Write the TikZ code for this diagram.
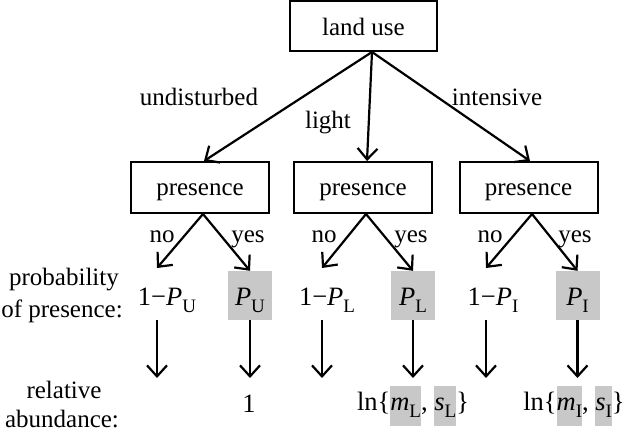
\documentclass[tikz,border=0pt]{standalone}
\usepackage{fontspec}
\setmainfont{Liberation Serif}
\usetikzlibrary{arrows.meta}
\definecolor{shade}{RGB}{200,200,200}
\newcommand{\sbs}[1]{\raisebox{-7pt}{\fontsize{19}{19}\selectfont #1}}
\newcommand{\gbx}[1]{{\setlength{\fboxsep}{0pt}\colorbox{shade}{\rule[-16pt]{0pt}{40pt}#1}}}
\newcommand{\mfont}{\fontsize{26.5}{30}\selectfont}
\begin{document}
\begin{tikzpicture}[x=1pt,y=-1pt,
  every node/.style={font=\fontsize{25}{30}\selectfont},
  box/.style={draw, line width=2pt, minimum width=138pt, minimum height=51pt, inner sep=0pt, text height=15pt, text depth=0pt},
  lbl/.style={anchor=base, inner sep=0pt},
  mlbl/.style={anchor=base, inner sep=0pt, font=\mfont},
  gbox/.style={fill=shade, minimum width=44pt, minimum height=49pt, inner sep=0pt, text height=19pt, text depth=0pt, font=\mfont},
  arr/.style={line width=2.2pt, -{Straight Barb[length=11pt,width=20pt,line width=2.2pt]}}]
\useasboundingbox (0,0) rectangle (628,434);

% top box
\node[box, minimum width=147pt, minimum height=50pt, text height=18pt] (lu) at (363.5,26) {land use};
\coordinate (t0) at ([xshift=8.5pt]lu.south);

% presence boxes
\node[box] (p1) at (200,187.5) {presence};
\node[box] (p2) at (363,187.5) {presence};
\node[box] (p3) at (528.5,187.5) {presence};

\draw[arr] (t0) -- ([xshift=4pt]p1.north);
\draw[arr] (t0) -- ([xshift=4pt]p2.north);
\draw[arr] (t0) -- ([xshift=1.5pt]p3.north);

\node[lbl] (lundist) at (199,105) {undisturbed};
\node[lbl] (llight) at (328,128) {light};
\node[lbl] (linten) at (497,105) {intensive};

% apexes
\coordinate (b1) at ([xshift=3pt]p1.south);
\coordinate (b2) at ([xshift=3pt]p2.south);
\coordinate (b3) at ([xshift=3.5pt]p3.south);

% probability row
\node[mlbl] (q1) at (167,305) {1−\textit{P}\sbs{U}};
\node[gbox] (pu) at (250,295.5) {\textit{P}\sbs{U}};
\node[mlbl] (q2) at (327,305) {1−\textit{P}\sbs{L}};
\node[gbox] (pl) at (413,295.5) {\textit{P}\sbs{L}};
\node[mlbl] (q3) at (493,305) {1−\textit{P}\sbs{I}};
\node[gbox] (pi) at (577.5,295.5) {\textit{P}\sbs{I}};

% no / yes labels
\node[lbl] (no1) at (162,242) {no};
\node[lbl] (yes1) at (248,242) {yes};
\node[lbl] (no2) at (324,242) {no};
\node[lbl] (yes2) at (411,242) {yes};
\node[lbl] (no3) at (490,242) {no};
\node[lbl] (yes3) at (575,242) {yes};

% no / yes arrows
\coordinate (n1) at (157,268);
\coordinate (n2) at (322,268);
\coordinate (n3) at (486,268);
\draw[arr] (b1) -- (n1);
\draw[arr] (b1) -- (pu.north);
\draw[arr] (b2) -- (n2);
\draw[arr] (b2) -- (pl.north);
\draw[arr] (b3) -- (n3);
\draw[arr] (b3) -- (pi.north);

% vertical arrows
\coordinate (v1a) at (157,320);  \coordinate (v1b) at (157,378);
\coordinate (v2a) at (322,320);  \coordinate (v2b) at (322,378);
\coordinate (v3a) at (486,320);  \coordinate (v3b) at (486,378);
\coordinate (w1) at (250,378);
\coordinate (w2) at (413,378);
\coordinate (w3) at (577.5,378);
\draw[arr] (v1a) -- (v1b);
\draw[arr] (v2a) -- (v2b);
\draw[arr] (v3a) -- (v3b);
\draw[arr] (pu.south) -- (w1);
\draw[arr] (pl.south) -- (w2);
\draw[arr] (pi.south) -- (w3);

% abundance row
\node[mlbl] (a1) at (249,412) {1};
\node[mlbl] (a2) at (413,410) {ln\{\gbx{\textit{m}\sbs{L}}, \gbx{\textit{s}\sbs{L}}\}};
\node[mlbl] (a3) at (574,410) {ln\{\gbx{\textit{m}\sbs{I}}, \gbx{\textit{s}\sbs{I}}\}};

% row titles
\node[lbl] (r1) at (64,285) {probability};
\node[lbl] (r2) at (62,317) {of presence:};
\node[lbl] (r3) at (64,398) {relative};
\node[lbl] (r4) at (62,427) {abundance:};
\end{tikzpicture}
\end{document}
